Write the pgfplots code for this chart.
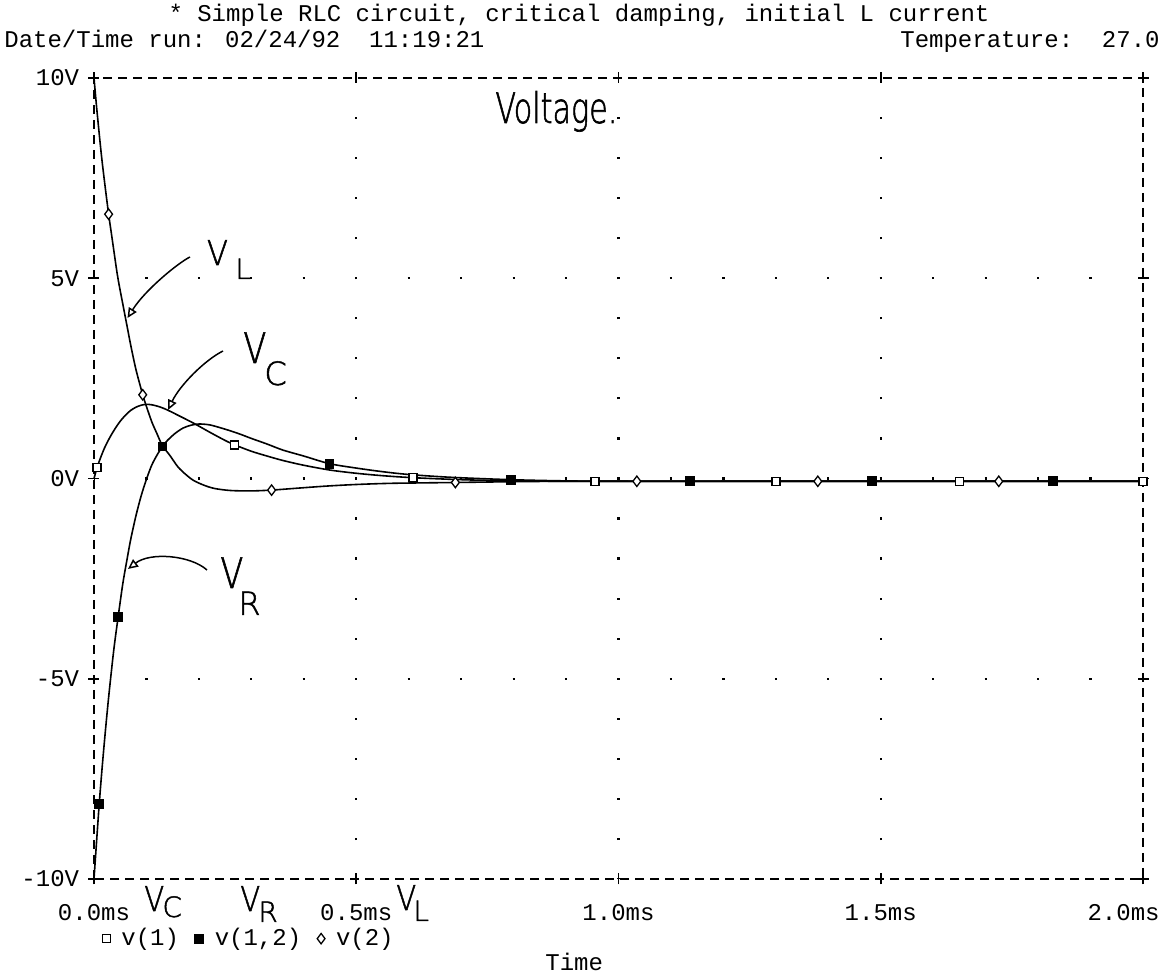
\documentclass[border=0pt]{standalone}
\usepackage{fontspec}
\usepackage{pgfplots}
\pgfplotsset{compat=1.18}
\usetikzlibrary{arrows.meta}
\setmainfont{Liberation Mono}
\newfontfamily\plotfont{Liberation Mono}
\newfontfamily\hand{DejaVu Sans ExtraLight}[FakeBold=1.6]
\newcommand\pf{\fontsize{12}{14}\selectfont\plotfont}
\newcommand\hw[1]{\fontsize{#1}{#1}\selectfont\hand}

\begin{document}
\begin{tikzpicture}
\begin{axis}[
  at={(0pt,0pt)}, anchor=south west,
  scale only axis, width=524.5pt, height=400.5pt,
  xmin=0, xmax=2, ymin=-10, ymax=10,
  clip=false,
  xtick={0,0.5,1,1.5}, xticklabels={0.0ms,0.5ms,1.0ms,1.5ms},
  extra x ticks={2}, extra x tick labels={2.0ms},
  extra x tick style={xticklabel style={anchor=north east, xshift=8.5pt}},
  ytick={-10,-5,0,5,10}, yticklabels={-10V,-5V,0V,5V,10V},
  tick align=center, major tick length=5.5pt,
  tick style={line width=0.8pt, black, solid},
  axis line style={line width=0.9pt, dash pattern=on 4.5pt off 3pt},
  tick label style={font=\pf, inner sep=0pt},
  xticklabel style={anchor=north, yshift=-10pt},
  yticklabel style={anchor=east, xshift=-4.5pt},
  legend columns=3,
  legend image code/.code={\draw[#1] plot coordinates {(0pt,0pt)};},
  legend style={at={(0.008,-0.0745)}, anchor=west, draw=none, fill=none,
    inner sep=0pt, outer sep=0pt, font=\pf, nodes={inner sep=0pt},
    /tikz/every odd column/.append style={column sep=5.5pt},
    /tikz/every even column/.append style={column sep=8pt}},
]
% dotted grid: dots every 0.1 ms along the level lines, every 1 V along the time lines
\foreach \v in {-5,0,5}{
  \edef\tmp{\noexpand\draw[line width=1.1pt, dash pattern=on 1.1pt off 25.125pt, dash phase=0.55pt]
    (axis cs:0,\v) -- (axis cs:2,\v);}\tmp}
\foreach \t in {0.5,1,1.5}{
  \edef\tmp{\noexpand\draw[line width=1.1pt, dash pattern=on 1.1pt off 18.925pt, dash phase=0.55pt]
    (axis cs:\t,-10) -- (axis cs:\t,10);}\tmp}

% traces
\addplot[black, line width=0.8pt, smooth, no marks, forget plot] coordinates {
 (0,0) (0.006,0.28) (0.012,0.50) (0.02,0.76) (0.03,1.02) (0.04,1.24) (0.05,1.43)
 (0.06,1.58) (0.07,1.70) (0.08,1.78) (0.09,1.83) (0.10,1.85) (0.11,1.84) (0.125,1.79)
 (0.14,1.71) (0.16,1.58) (0.19,1.38) (0.22,1.16) (0.25,0.95) (0.268,0.84) (0.30,0.68)
 (0.33,0.56) (0.36,0.45) (0.40,0.33) (0.45,0.21) (0.50,0.13) (0.55,0.07) (0.608,0.02)
 (0.70,-0.03) (0.80,-0.06) (0.90,-0.07) (1.0,-0.07) (1.3,-0.07) (1.6,-0.07) (2.0,-0.07)};
\addplot[black, line width=0.8pt, smooth, no marks, forget plot] coordinates {
 (0,-10) (0.005,-9.05) (0.010,-8.12) (0.015,-7.30) (0.02,-6.55) (0.025,-5.85) (0.03,-5.2)
 (0.038,-4.25) (0.0461,-3.45) (0.055,-2.62) (0.063,-2.02) (0.07,-1.52) (0.08,-0.93)
 (0.09,-0.43) (0.10,-0.02) (0.11,0.33) (0.12,0.58) (0.1305,0.80) (0.14,0.95) (0.155,1.13)
 (0.17,1.26) (0.185,1.33) (0.20,1.36) (0.22,1.34) (0.24,1.27) (0.26,1.19) (0.28,1.10)
 (0.30,1.00) (0.33,0.86) (0.36,0.71) (0.40,0.56) (0.449,0.37) (0.50,0.26) (0.55,0.17)
 (0.60,0.10) (0.68,0.03) (0.795,-0.03) (0.90,-0.06) (1.0,-0.07) (1.3,-0.07) (1.6,-0.07) (2.0,-0.07)};
\addplot[black, line width=0.8pt, smooth, no marks, forget plot] coordinates {
 (0,10) (0.005,9.27) (0.01,8.60) (0.015,7.97) (0.0213,7.28) (0.0279,6.60) (0.035,5.95)
 (0.045,5.05) (0.055,4.35) (0.0631,3.80) (0.07,3.33) (0.08,2.72) (0.0929,2.09) (0.10,1.80)
 (0.11,1.42) (0.12,1.12) (0.1305,0.82) (0.145,0.57) (0.16,0.29) (0.175,0.10) (0.19,-0.05)
 (0.21,-0.17) (0.23,-0.25) (0.26,-0.30) (0.30,-0.31) (0.3386,-0.29) (0.39,-0.24)
 (0.443,-0.19) (0.50,-0.15) (0.57,-0.12) (0.689,-0.10) (0.80,-0.08) (0.90,-0.07)
 (1.0,-0.07) (1.3,-0.07) (1.6,-0.07) (2.0,-0.07)};

% markers
\addplot[only marks, mark=square*, mark size=2pt,
  mark options={draw=black, fill=white, line width=0.75pt}] coordinates {
 (0.006,0.28) (0.268,0.84) (0.608,0.02) (0.955,-0.07) (1.30,-0.07) (1.65,-0.07) (2.0,-0.07)};
\addlegendentry{v(1)}
\addplot[only marks, mark=square*, mark size=2.2pt,
  mark options={draw=black, fill=black, line width=0.5pt}] coordinates {
 (0.010,-8.12) (0.0461,-3.45) (0.1305,0.80) (0.449,0.37) (0.795,-0.03) (1.136,-0.07)
 (1.483,-0.07) (1.829,-0.07)};
\addlegendentry{v(1,2)}
\addplot[only marks, mark=diamond*, mark size=2.6pt,
  mark options={draw=black, fill=white, line width=0.65pt}] coordinates {
 (0.0279,6.60) (0.0929,2.09) (0.3386,-0.29) (0.689,-0.10) (1.035,-0.07) (1.38,-0.07) (1.725,-0.07)};
\addlegendentry{v(2)}
\end{axis}

% header
\node[anchor=base, inner sep=0pt, font=\pf] at (242.5pt,428.5pt)
  {* Simple RLC circuit, critical damping, initial L current};
\node[anchor=base west, inner sep=0pt, font=\pf] at (-45pt,415.5pt)
  {Date/Time run: 02/24/92\ \ 11:19:21};
\node[anchor=base east, inner sep=0pt, font=\pf] at (533pt,415.5pt)
  {Temperature:\ \ 27.0};
\node[anchor=base west, inner sep=0pt, font=\pf] at (225.5pt,-46pt) {Time};

% pen notes
\begin{scope}[every node/.style={anchor=base west, inner sep=0pt}]
\node at (200.5pt,378pt) {\scalebox{0.72}[1]{\hw{21}Voltage.}};
\node at (56.3pt,307pt) {\scalebox{0.9}[1]{\hw{17}V}};
\node at (70.5pt,300pt) {\hw{14}L};
\node at (74.5pt,258pt) {\scalebox{0.8}[1]{\hw{21}V}};
\node at (85pt,247pt) {\hw{16}C};
\node at (63pt,145.5pt) {\scalebox{0.8}[1]{\hw{21}V}};
\node at (72pt,132pt) {\hw{16}R};
\node at (25pt,-16pt) {\scalebox{0.85}[1]{\hw{17}V}};
\node at (34pt,-19pt) {\hw{14}C};
\node at (73pt,-16pt) {\scalebox{0.85}[1]{\hw{17}V}};
\node at (82pt,-21.5pt) {\hw{14}R};
\node at (151pt,-15.5pt) {\scalebox{0.85}[1]{\hw{17}V}};
\node at (159.5pt,-21pt) {\hw{14}L};
\end{scope}
\begin{scope}[line width=0.75pt, -{Triangle[open, length=5pt, width=4.5pt]}]
\draw (48pt,311pt) .. controls (42pt,308pt) and (25.5pt,294.5pt) .. (16.75pt,280.5pt);
\draw (64.5pt,264pt) .. controls (55.5pt,259.5pt) and (43pt,247pt) .. (37pt,234.5pt);
\draw (56.5pt,154.5pt) .. controls (48pt,162pt) and (28pt,163.5pt) .. (17pt,155pt);
\end{scope}

\pgfresetboundingbox
\path[use as bounding box] (-47pt,-49pt) rectangle (535pt,439.5pt);
\end{tikzpicture}
\end{document}
